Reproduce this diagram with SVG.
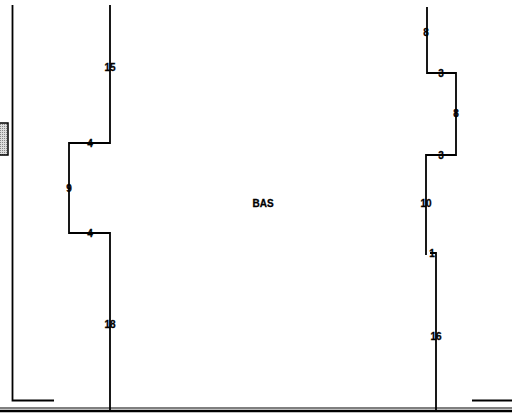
<svg xmlns="http://www.w3.org/2000/svg" width="512" height="415" viewBox="0 0 512 415">
<style>
.ln{fill:none;stroke:#000;stroke-width:1.8}
.t{font-family:"Liberation Sans",Arial,sans-serif;font-weight:bold;font-size:10px;fill:#000;stroke:#000;stroke-width:0.3;text-anchor:middle}
</style>
<defs>
<pattern id="dots" width="2" height="2" patternUnits="userSpaceOnUse">
<rect width="2" height="2" fill="#ddd"/><rect width="1" height="1" fill="#888"/>
</pattern>
</defs>
<rect width="512" height="415" fill="#fff"/>
<g id="walls">
<path class="ln" d="M12.5,5 V400.5 H54"/>
<path class="ln" d="M472,400.5 H512"/>
<rect x="-1" y="123" width="9" height="32" fill="url(#dots)" stroke="#000" stroke-width="1.5"/>
<line x1="0" y1="408" x2="512" y2="408" stroke="#000" stroke-width="1"/>
<line x1="0" y1="411" x2="512" y2="411" stroke="#000" stroke-width="2.5"/>
</g>
<g id="connectors">
<path class="ln" d="M110,5 V143 H69 V233 H110 V410"/>
<path class="ln" d="M427,7 V73 H456 V155 H426 V255 M430,253 H436 V410"/>
</g>
<g id="labels">
<text class="t" x="110" y="71">15</text>
<text class="t" x="90" y="147">4</text>
<text class="t" x="69" y="192">9</text>
<text class="t" x="90" y="237">4</text>
<text class="t" x="110" y="328">18</text>
<text class="t" x="426" y="36">8</text>
<text class="t" x="441" y="77">3</text>
<text class="t" x="456" y="117">8</text>
<text class="t" x="441" y="159">3</text>
<text class="t" x="426" y="207">10</text>
<text class="t" x="432" y="257" font-size="6">1</text>
<text class="t" x="436" y="340">16</text>
<text class="t" x="263" y="207">BAS</text>
</g>
</svg>
